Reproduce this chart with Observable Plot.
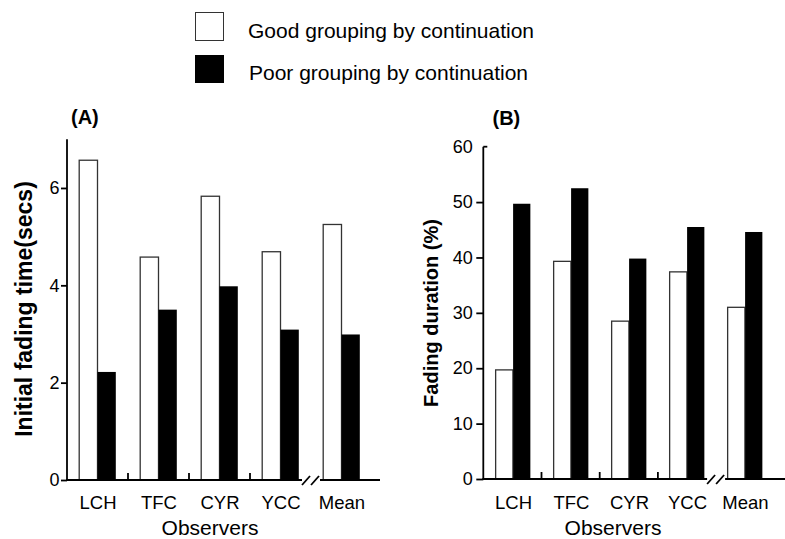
<!DOCTYPE html>
<html>
<head>
<meta charset="utf-8">
<script src="https://cdn.jsdelivr.net/npm/d3@7"></script>
<script src="https://cdn.jsdelivr.net/npm/@observablehq/plot@0.6"></script>
<style>
  html, body { margin: 0; padding: 0; background: #fff; }
  #root { position: relative; width: 785px; height: 539px; overflow: hidden; background: #fff;
          font-family: "Liberation Sans", Arial, Helvetica, sans-serif; color: #000; }
  .abs { position: absolute; white-space: nowrap; line-height: 1; }
  .swatch { position: absolute; box-sizing: border-box; }
  .panel { position: absolute; }
</style>
</head>
<body>
<div id="root"></div>
<script>
// ---------- data ----------
const observers = ["LCH", "TFC", "CYR", "YCC", "Mean"];
const goodA = [6.57, 4.58, 5.83, 4.69, 5.25];   // Initial fading time (secs), good grouping
const poorA = [2.22, 3.50, 3.98, 3.09, 2.99];   // Initial fading time (secs), poor grouping
const goodB = [19.7, 39.3, 28.5, 37.4, 31.0];   // Fading duration (%), good grouping
const poorB = [49.7, 52.5, 39.8, 45.5, 44.6];   // Fading duration (%), poor grouping
const yTicksA = [0, 2, 4, 6];
const yTicksB = [0, 10, 20, 30, 40, 50, 60];
const yDomainA = [0, 7];
const yDomainB = [0, 60];
const legendLabels = ["Good grouping by continuation", "Poor grouping by continuation"];
const panelTitles = ["(A)", "(B)"];
const yLabels = ["Initial fading time(secs)", "Fading duration (%)"];
const xLabel = "Observers";

const root = document.getElementById("root");
const FONT = '"Liberation Sans", Arial, Helvetica, sans-serif';
const fmt = d => String(d);

function addText(txt, css) {
  const d = document.createElement("div");
  d.className = "abs";
  d.textContent = txt;
  Object.assign(d.style, css);
  root.appendChild(d);
  return d;
}

// custom axis mark: left axis line, broken x axis with inner ticks
function brokenAxis(opt) {
  return (index, scales, values, dims) => {
    const y = scales.y;
    const n = observers.length;
    const left = dims.marginLeft;
    const plotRight = dims.width - dims.marginRight;
    const bw = (plotRight - left) / n;
    const y0 = y(0);
    const top = dims.marginTop;
    const brk = left + bw * (n - 1);
    const g = d3.create("svg:g").attr("fill", "none").attr("stroke", "#000");
    g.append("line").attr("x1", left).attr("x2", left).attr("y1", top).attr("y2", y0)
      .attr("stroke-width", 1.8);
    if (opt.topTickInside) {
      g.append("line").attr("x1", left).attr("x2", left + 4).attr("y1", top).attr("y2", top)
        .attr("stroke-width", 1.8);
    }
    const gap = 9;
    g.append("line").attr("x1", left - 0.9).attr("x2", brk - gap).attr("y1", y0).attr("y2", y0)
      .attr("stroke-width", 2);
    g.append("line").attr("x1", brk + gap).attr("x2", plotRight + opt.extend).attr("y1", y0).attr("y2", y0)
      .attr("stroke-width", 2);
    for (const dx of [-5, 4]) {
      g.append("line")
        .attr("x1", brk + dx - 4).attr("y1", y0 + 5)
        .attr("x2", brk + dx + 4).attr("y2", y0 - 4)
        .attr("stroke-width", 1.8);
    }
    for (let i = 1; i < n - 1; i++) {
      const xt = left + bw * i;
      g.append("line").attr("x1", xt).attr("x2", xt).attr("y1", y0).attr("y2", y0 - 7)
        .attr("stroke-width", 1.8);
    }
    return g.node();
  };
}

function panel(cfg) {
  const data = observers.map((o, i) => ({obs: o, good: cfg.good[i], poor: cfg.poor[i]}));
  const bw = (cfg.width - cfg.marginLeft - cfg.marginRight) / observers.length;
  const barW = bw * 0.3;
  const inner = bw / 2 - barW;
  const marks = [
    Plot.barY(data, {x: "obs", y: "good", fill: "white", stroke: "#333", strokeWidth: 1.3,
      insetLeft: inner, insetRight: bw / 2}),
    Plot.barY(data, {x: "obs", y: "poor", fill: "black",
      insetLeft: bw / 2, insetRight: inner}),
    Plot.axisX({tickSize: 0, tickPadding: cfg.xPad, fontSize: 18.5, label: null}),
    ...cfg.yAxes,
    brokenAxis(cfg.axisOpt)
  ];
  const svg = Plot.plot({
    width: cfg.width,
    height: cfg.height,
    marginLeft: cfg.marginLeft,
    marginRight: cfg.marginRight,
    marginTop: cfg.marginTop,
    marginBottom: cfg.marginBottom,
    style: {fontFamily: FONT, fontSize: "18px", color: "#000", background: "transparent", overflow: "visible"},
    x: {type: "band", domain: observers, padding: 0, label: null},
    y: {domain: cfg.yDomain, label: null},
    marks
  });
  svg.classList.add("panel");
  svg.style.left = cfg.left + "px";
  svg.style.top = cfg.top + "px";
  root.appendChild(svg);
}

panel({
  left: 0, top: 100, width: 400, height: 439,
  marginLeft: 67, marginRight: 28, marginTop: 39.3, marginBottom: 59,
  good: goodA, poor: poorA, yDomain: yDomainA, xPad: 15,
  yAxes: [Plot.axisY({ticks: yTicksA, tickFormat: fmt, tickSize: 6, tickPadding: 2, fontSize: 18, label: null, strokeWidth: 1.8})],
  axisOpt: {extend: 8, topTickInside: false}
});

panel({
  left: 400, top: 100, width: 385, height: 439,
  marginLeft: 83.3, marginRight: 10.7, marginTop: 46.7, marginBottom: 60,
  good: goodB, poor: poorB, yDomain: yDomainB, xPad: 16,
  yAxes: [
    Plot.axisY({ticks: yTicksB.slice(0, -1), tickFormat: fmt, tickSize: 7, tickPadding: 4, fontSize: 18, label: null, strokeWidth: 1.8}),
    Plot.axisY({ticks: yTicksB.slice(-1), tickFormat: fmt, tickSize: 0, tickPadding: 11, fontSize: 18, label: null})
  ],
  axisOpt: {extend: 15, topTickInside: true}
});

// ---------- legend ----------
const sw1 = document.createElement("div");
sw1.className = "swatch";
Object.assign(sw1.style, {left: "195px", top: "11.5px", width: "29px", height: "29px",
  border: "1.4px solid #333", background: "#fff"});
root.appendChild(sw1);
const sw2 = document.createElement("div");
sw2.className = "swatch";
Object.assign(sw2.style, {left: "195px", top: "55px", width: "29px", height: "28px", background: "#000"});
root.appendChild(sw2);
addText(legendLabels[0], {left: "248px", top: "19.5px", fontSize: "21px"});
addText(legendLabels[1], {left: "249px", top: "62.2px", fontSize: "21px"});

// ---------- panel titles ----------
addText(panelTitles[0], {left: "71px", top: "107.4px", fontSize: "20px", fontWeight: "bold"});
addText(panelTitles[1], {left: "492.5px", top: "108.1px", fontSize: "20px", fontWeight: "bold"});

// ---------- axis titles ----------
addText(xLabel, {left: "210px", top: "517.2px", fontSize: "21px", transform: "translateX(-50%)"});
addText(xLabel, {left: "613px", top: "517.2px", fontSize: "21px", transform: "translateX(-50%)"});
addText(yLabels[0], {left: "23.5px", top: "309.2px", fontSize: "23px", fontWeight: "bold",
  transform: "translate(-50%, -50%) rotate(-90deg)"});
addText(yLabels[1], {left: "431px", top: "313.3px", fontSize: "20px", fontWeight: "bold",
  transform: "translate(-50%, -50%) rotate(-90deg)"});
</script>
</body>
</html>
